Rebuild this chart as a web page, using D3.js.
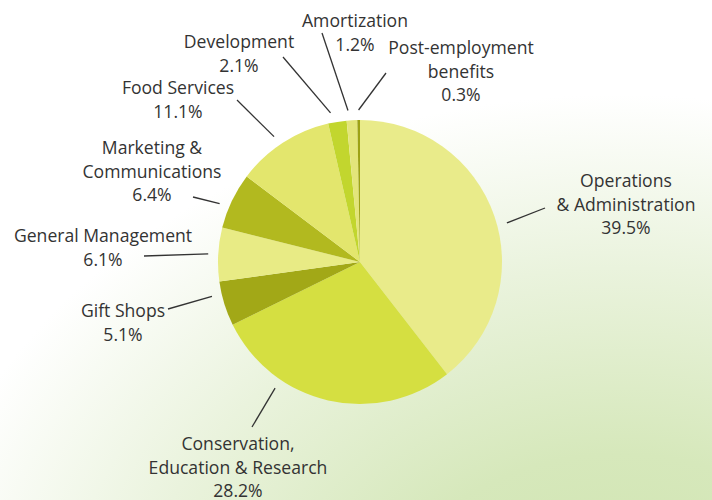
<!DOCTYPE html>
<html>
<head>
<meta charset="utf-8">
<script src="https://cdn.jsdelivr.net/npm/d3@7"></script>
<style>
  html, body { margin: 0; padding: 0; background: #fff; }
  svg { display: block; }
  text { font-family: "Open Sans", sans-serif; font-size: 17.6px; fill: #333; }
</style>
</head>
<body>
<svg id="chart" width="712" height="500"></svg>
<script>
const width = 712;
const height = 500;

// data, clockwise from 12 o'clock
const categories = [
  "Operations & Administration",
  "Conservation, Education & Research",
  "Gift Shops",
  "General Management",
  "Marketing & Communications",
  "Food Services",
  "Development",
  "Amortization",
  "Post-employment benefits"
];
const values = [39.5, 28.2, 5.1, 6.1, 6.4, 11.1, 2.1, 1.2, 0.3];
const labelLines = [
  ["Operations", "& Administration"],
  ["Conservation,", "Education & Research"],
  ["Gift Shops"],
  ["General Management"],
  ["Marketing &", "Communications"],
  ["Food Services"],
  ["Development"],
  ["Amortization"],
  ["Post-employment", "benefits"]
];
const colors = ["#e9eb8a", "#d5df41", "#a2a817", "#e8eb85", "#b2b91f", "#e3e66d", "#c2d62e", "#e3e57a", "#9da215"];

// label layout: text centre x, first baseline y, leader end point, angle nudge (deg)
const layout = [
  { tx: 626, ty: 187, lx: 545, ly: 208, nudge: 4 },
  { tx: 238, ty: 450, lx: 252, ly: 427, nudge: 21 },
  { tx: 123, ty: 317, lx: 168, ly: 309, nudge: 4 },
  { tx: 103, ty: 242, lx: 144, ly: 256, nudge: 0 },
  { tx: 152, ty: 154, lx: 193, ly: 197, nudge: -3 },
  { tx: 178, ty: 94,  lx: 237, ly: 100, nudge: -1.5 },
  { tx: 239, ty: 48,  lx: 283, ly: 57,  nudge: -2 },
  { tx: 355, ty: 27,  lx: 322, ly: 33,  nudge: -1.3 },
  { tx: 461, ty: 54,  lx: 386, ly: 73,  nudge: 0 }
];

const cx = 360, cy = 262, radius = 142;
const lineHeight = 23.7;

const svg = d3.select("#chart");

// background wash
const defs = svg.append("defs");
const grad = defs.append("radialGradient")
    .attr("id", "bg")
    .attr("gradientUnits", "userSpaceOnUse")
    .attr("cx", 620).attr("cy", 640).attr("r", 620)
    .attr("gradientTransform", "translate(620,640) scale(1.3,1) translate(-620,-640)");
grad.append("stop").attr("offset", 0).attr("stop-color", "#cee3ad");
grad.append("stop").attr("offset", 0.3).attr("stop-color", "#d6e8bb");
grad.append("stop").attr("offset", 0.6).attr("stop-color", "#eaf3dd");
grad.append("stop").attr("offset", 0.88).attr("stop-color", "#ffffff");
grad.append("stop").attr("offset", 1).attr("stop-color", "#ffffff");

svg.append("rect")
    .attr("width", width)
    .attr("height", height)
    .attr("fill", "url(#bg)");

const data = categories.map(function (c, i) {
    return { name: c, value: values[i], lines: labelLines[i], color: colors[i], pos: layout[i] };
});

const pie = d3.pie()
    .sort(null)
    .value(function (d) { return d.value; });

const arc = d3.arc()
    .innerRadius(0)
    .outerRadius(radius);

const arcs = pie(data);

const g = svg.append("g")
    .attr("transform", "translate(" + cx + "," + cy + ")");

g.selectAll("path")
    .data(arcs)
    .enter()
    .append("path")
    .attr("d", arc)
    .attr("fill", function (d) { return d.data.color; });

// leader lines start just outside the rim at the slice's mid angle
function rimPoint(d) {
    const a = (d.startAngle + d.endAngle) / 2 + d.data.pos.nudge * Math.PI / 180;
    const r = radius + 10;
    return [cx + r * Math.sin(a), cy - r * Math.cos(a)];
}

svg.append("g")
    .selectAll("line")
    .data(arcs)
    .enter()
    .append("line")
    .attr("x1", function (d) { return rimPoint(d)[0]; })
    .attr("y1", function (d) { return rimPoint(d)[1]; })
    .attr("x2", function (d) { return d.data.pos.lx; })
    .attr("y2", function (d) { return d.data.pos.ly; })
    .attr("stroke", "#333")
    .attr("stroke-width", 1.3);

const labels = svg.append("g")
    .selectAll("text")
    .data(arcs)
    .enter()
    .append("text")
    .attr("text-anchor", "middle")
    .attr("x", function (d) { return d.data.pos.tx; })
    .attr("y", function (d) { return d.data.pos.ty; });

labels.each(function (d) {
    const t = d3.select(this);
    const rows = d.data.lines.concat([d3.format(".1f")(d.data.value) + "%"]);
    rows.forEach(function (row, i) {
        t.append("tspan")
            .attr("x", d.data.pos.tx)
            .attr("dy", i === 0 ? 0 : lineHeight)
            .text(row);
    });
});
</script>
</body>
</html>
